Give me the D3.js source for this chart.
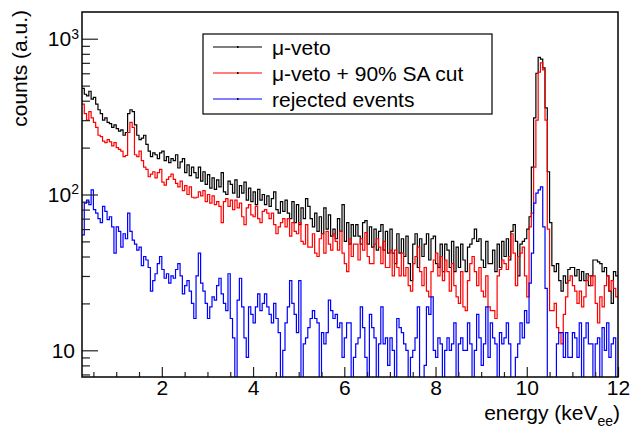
<!DOCTYPE html>
<html>
<head>
<meta charset="utf-8">
<script src="https://cdn.jsdelivr.net/npm/d3@7"></script>
<style>
  body { margin: 0; background: #fff; }
  text { font-family: "Liberation Sans", Arial, sans-serif; fill: #000; }
</style>
</head>
<body>
<svg id="chart" width="630" height="429"></svg>
<script>
// histogram binning (keV)
var binStart = 0.25, binWidth = 0.05;

// mu-veto spectrum, 235 bins
var muVeto = [
  480,440,430,460,410,420,380,350,330,300,
  310,290,285,270,280,265,255,260,240,250,
  330,350,340,280,240,225,230,240,210,190,
  175,185,180,170,185,190,165,175,160,170,
  165,180,148,162,170,138,155,132,150,138,
  128,150,122,140,116,134,110,128,108,124,
  112,138,104,100,122,116,102,124,96,114,
  102,120,92,110,90,104,86,108,92,100,
  86,98,84,94,104,80,76,90,78,92,
  76,70,90,66,86,64,82,70,94,84,
  70,62,76,58,72,56,82,60,74,54,
  60,52,70,58,86,50,66,48,64,54,
  64,54,48,66,68,48,62,46,60,44,
  58,64,44,58,42,60,42,36,56,42,
  52,40,54,36,28,48,56,34,52,40,
  48,56,38,52,54,36,34,48,32,48,
  44,34,50,32,46,34,48,38,32,46,
  48,52,60,50,52,38,34,50,36,36,
  44,32,48,34,50,40,52,38,58,64,
  50,30,48,50,52,60,72,150,310,600,
  760,740,650,360,140,66,35,32,36,28,
  24,30,27,33,34,34,30,33,28,32,
  28,31,26,30,38,38,37,36,32,34,
  30,24,20,32,30
];

// mu-veto + 90% SA cut
var muVetoCut = [
  380,330,300,340,310,290,270,240,235,220,
  215,225,218,205,215,200,195,190,175,178,
  250,290,270,180,175,190,165,150,145,130,
  135,140,128,138,145,120,115,125,130,135,
  125,118,112,122,106,114,100,112,96,95,
  96,104,98,106,90,100,88,98,86,90,
  84,66,90,94,84,92,80,92,82,88,
  72,64,82,86,74,72,84,70,66,78,
  80,76,70,76,64,56,62,66,70,62,
  70,54,66,58,56,66,50,48,64,46,
  46,56,42,40,52,56,42,58,48,44,
  56,50,44,58,42,36,32,52,40,48,
  48,38,52,44,57,40,36,36,48,52,
  46,36,50,34,34,44,30,44,34,30,
  42,30,34,26,24,36,40,46,32,26,
  34,24,22,32,38,42,30,40,28,38,
  32,24,36,26,22,20,32,19,18,28,
  36,40,32,26,34,24,22,30,19,18,
  18,16,30,33,38,36,33,40,56,42,
  26,40,42,46,30,22,62,76,150,300,
  610,700,630,300,60,18,18,20,14,13,
  11,17,22,28,30,26,24,20,24,19,
  22,28,30,26,30,20,15,22,19,26,
  30,24,28,25,22
];

// rejected events (0 = empty bin)
var rejected = [
  55,88,92,86,107,80,76,70,66,84,
  78,69,72,62,42,62,58,46,56,52,
  76,58,51,48,44,46,35,40,38,34,
  24,28,31,36,40,33,29,31,27,30,
  29,33,36,30,23,26,28,24,20,16,
  30,42,27,24,20,16,19,22,21,26,
  29,23,20,18,31,16,12,0,21,29,
  19,12,9,19,17,15,19,23,18,20,
  23,19,17,15,20,16,13,0,10,15,
  19,28,20,17,13,28,0,11,12,14,
  16,18,16,15,0,13,11,13,21,18,
  16,17,14,15,9,12,15,15,0,9,
  11,12,19,14,9,0,17,14,12,0,
  11,19,11,12,8,12,10,0,16,14,
  13,11,10,0,9,10,12,19,0,0,
  8,19,17,22,10,9,12,11,0,10,
  12,10,11,15,0,11,12,10,10,15,
  11,0,10,17,12,8,11,19,9,15,
  12,11,0,13,11,12,15,11,0,0,
  9,11,15,12,18,15,27,42,88,102,
  107,112,62,25,0,0,0,0,11,13,
  13,9,13,9,9,13,12,9,15,0,
  12,15,11,11,0,11,12,0,14,10,
  15,9,11,12,0
];

var seriesNames = ["\u03BC-veto", "\u03BC-veto + 90% SA cut", "rejected events"];
var xTicks = [2, 4, 6, 8, 10, 12];
var yDecades = [10, 100, 1000];

var colors = ["#000000", "#ff0000", "#0000ff"];
var plotL = 82, plotR = 618, plotT = 12, plotB = 377;

var svg = d3.select("#chart");

var x = d3.scaleLinear().domain([0.25, 12]).range([plotL, plotR]);
var y = d3.scaleLog().domain([6.74, 1484]).range([plotB, plotT]);

svg.append("defs").append("clipPath").attr("id", "frameClip")
  .append("rect").attr("x", plotL).attr("y", plotT)
  .attr("width", plotR - plotL).attr("height", plotB - plotT);

function stepPath(values) {
  var pts = values.map(function(v, i) { return [binStart + i * binWidth, v]; });
  pts.push([binStart + values.length * binWidth, values[values.length - 1]]);
  return d3.line()
    .x(function(d) { return x(d[0]); })
    .y(function(d) { return d[1] > 0 ? y(d[1]) : plotB + 10; })
    .curve(d3.curveStepAfter)(pts);
}

var g = svg.append("g").attr("clip-path", "url(#frameClip)");
[muVeto, muVetoCut, rejected].forEach(function(vals, i) {
  g.append("path")
    .attr("d", stepPath(vals))
    .attr("fill", "none")
    .attr("stroke", colors[i])
    .attr("stroke-width", 1.2);
});

// x axis: major + minor ticks pointing inward
var xMinor = d3.range(0.5, 12.01, 0.5).filter(function(v) { return v % 2 !== 0; });
svg.append("g").attr("transform", "translate(0," + plotB + ")")
  .call(d3.axisBottom(x).tickValues(xMinor).tickSize(-5).tickFormat(""));
var xAxis = svg.append("g").attr("transform", "translate(0," + plotB + ")")
  .call(d3.axisBottom(x).tickValues(xTicks).tickSize(-10).tickPadding(3).tickFormat(d3.format("d")));
xAxis.selectAll("text").style("font-size", "21px").attr("fill", "#000")
  .style("font-family", "'Liberation Sans', Arial, sans-serif");

// y axis: log, majors at decades, minors at 2..9
var yMinor = [];
[1, 10, 100].forEach(function(d) {
  for (var k = 2; k <= 9; k++) {
    var v = k * d;
    if (v >= 6.74 && v <= 1484) yMinor.push(v);
  }
});
svg.append("g").attr("transform", "translate(" + plotL + ",0)")
  .call(d3.axisLeft(y).tickValues(yMinor).tickSize(-8).tickFormat(""));
svg.append("g").attr("transform", "translate(" + plotL + ",0)")
  .call(d3.axisLeft(y).tickValues(yDecades).tickSize(-16).tickFormat(""));

svg.selectAll(".domain").remove();
svg.selectAll(".tick line").attr("stroke", "#222").attr("stroke-width", 1.2);

// y tick labels with superscript exponent
yDecades.forEach(function(v) {
  var e = Math.round(Math.log10(v));
  var t = svg.append("text")
    .attr("x", e === 1 ? 75 : 79)
    .attr("y", y(v))
    .attr("dy", "0.36em")
    .attr("text-anchor", "end")
    .style("font-size", "21px");
  t.append("tspan").text("10");
  if (e > 1) {
    t.append("tspan").attr("dy", "-0.55em").style("font-size", "14px").text(e);
  }
});

// frame
svg.append("rect")
  .attr("x", plotL).attr("y", plotT)
  .attr("width", plotR - plotL).attr("height", plotB - plotT)
  .attr("fill", "none").attr("stroke", "#000").attr("stroke-width", 1.5);

// axis titles
svg.append("text")
  .attr("transform", "translate(27," + (plotT - 2) + ") rotate(-90)")
  .attr("text-anchor", "end")
  .style("font-size", "21px")
  .text("counts (a.u.)");

var xt = svg.append("text")
  .attr("x", 620).attr("y", 420)
  .attr("text-anchor", "end")
  .style("font-size", "21px");
xt.append("tspan").text("energy (keV");
xt.append("tspan").attr("dy", 6).style("font-size", "14px").text("ee");
xt.append("tspan").attr("dy", -6).text(")");

// legend
var legend = svg.append("g");
legend.append("rect")
  .attr("x", 203).attr("y", 34).attr("width", 289).attr("height", 80)
  .attr("fill", "#fff").attr("stroke", "#000").attr("stroke-width", 1.2);
seriesNames.forEach(function(name, i) {
  var ly = 47 + i * 26;
  legend.append("line")
    .attr("x1", 213).attr("x2", 262).attr("y1", ly).attr("y2", ly)
    .attr("stroke", colors[i]).attr("stroke-width", 1.2);
  legend.append("rect")
    .attr("x", 237).attr("y", ly - 1).attr("width", 1.5).attr("height", 2)
    .attr("fill", "#000");
  legend.append("text")
    .attr("x", 272).attr("y", ly).attr("dy", "0.36em")
    .style("font-size", "21px")
    .text(name);
});
</script>
</body>
</html>
